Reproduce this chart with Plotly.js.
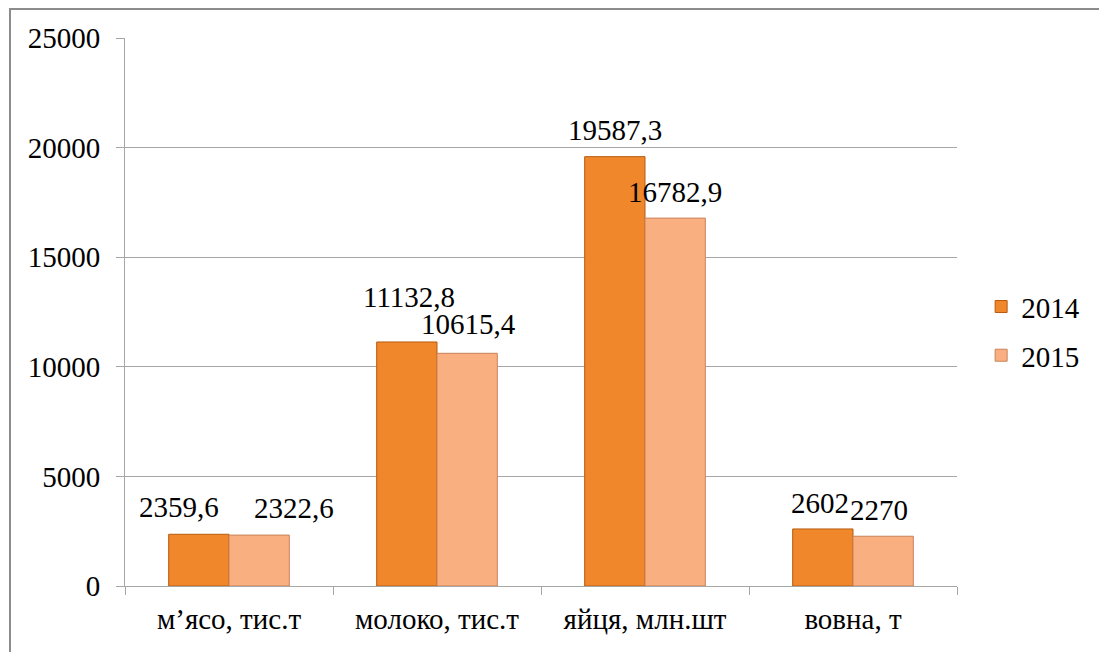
<!DOCTYPE html>
<html>
<head>
<meta charset="utf-8">
<script src="https://cdn.plot.ly/plotly-3.0.1.min.js"></script>
<style>
  html, body { margin: 0; padding: 0; background: #fff; overflow: hidden; }
  #chart { position: absolute; left: 0; top: 0; width: 1099px; height: 652px; }
  #frame { position: absolute; left: 9px; top: 8px; width: 1100px; height: 660px;
           border: 2px solid #8c8c8c; box-sizing: border-box; pointer-events: none; }
</style>
</head>
<body>
<div id="chart"></div>
<div id="frame"></div>
<script>
const categories = ['м’ясо, тис.т', 'молоко, тис.т', 'яйця, млн.шт', 'вовна, т'];
const values2014 = [2359.6, 11132.8, 19587.3, 2602];
const values2015 = [2322.6, 10615.4, 16782.9, 2270];
const labels2014 = ['2359,6', '11132,8', '19587,3', '2602'];
const labels2015 = ['2322,6', '10615,4', '16782,9', '2270'];
const seriesNames = ['2014', '2015'];
const yTicks = [0, 5000, 10000, 15000, 20000, 25000];

// label placement offsets (px) relative to the category centre / bar top
const labelDx2014 = [-50, -28, -30, -33];
const labelDy2014 = [27, 45, 27, 26];
const labelDx2015 = [65, 31, 30, 26];
const labelDy2015 = [27, 29, 26, 26];

const font = "'Liberation Serif', 'Times New Roman', serif";
const fs = 29;

const traces = [
  {
    type: 'bar', name: seriesNames[0], x: categories, y: values2014,
    legendgroup: 'a',
    marker: { color: '#F0872A', line: { color: '#B85A10', width: 1 } },
    hoverinfo: 'none'
  },
  {
    type: 'bar', name: seriesNames[1], x: categories, y: values2015,
    legendgroup: 'b',
    marker: { color: '#F9AF80', line: { color: '#C98158', width: 1 } },
    hoverinfo: 'none'
  }
];

const annotations = [];
categories.forEach((c, i) => {
  annotations.push({
    x: c, y: values2014[i], xref: 'x', yref: 'y', text: labels2014[i],
    showarrow: false, xshift: labelDx2014[i], yshift: labelDy2014[i],
    font: { family: font, size: fs, color: '#000' }
  });
  annotations.push({
    x: c, y: values2015[i], xref: 'x', yref: 'y', text: labels2015[i],
    showarrow: false, xshift: labelDx2015[i], yshift: labelDy2015[i],
    font: { family: font, size: fs, color: '#000' }
  });
});

const layout = {
  width: 1099, height: 652,
  margin: { l: 125, r: 142, t: 38, b: 66 },
  paper_bgcolor: '#fff', plot_bgcolor: '#fff',
  font: { family: font, size: fs, color: '#000' },
  barmode: 'group',
  bargap: 0.42, bargroupgap: 0,
  xaxis: {
    showline: true, linecolor: '#a6a6a6', linewidth: 1,
    ticks: 'outside', tickson: 'boundaries', ticklen: 8, tickcolor: '#a6a6a6',
    ticklabelstandoff: 7,
    tickfont: { family: font, size: fs, color: '#000' },
    showgrid: false, zeroline: false, fixedrange: true
  },
  yaxis: {
    range: [0, 25000], tickvals: yTicks, ticktext: yTicks.map(String),
    showline: true, linecolor: '#a6a6a6', linewidth: 1,
    ticks: 'outside', ticklen: 8, tickcolor: '#a6a6a6',
    ticklabelstandoff: 10,
    showgrid: true, gridcolor: '#a6a6a6', gridwidth: 1,
    zeroline: false,
    tickfont: { family: font, size: fs, color: '#000' },
    fixedrange: true
  },
  legend: {
    x: 1.029, y: 0.465, xanchor: 'left', yanchor: 'middle',
    font: { family: font, size: fs, color: '#000' },
    traceorder: 'grouped', tracegroupgap: 8,
    itemwidth: 30, bgcolor: 'rgba(0,0,0,0)'
  },
  annotations: annotations,
  showlegend: true
};

Plotly.newPlot('chart', traces, layout, { displayModeBar: false, staticPlot: true });
</script>
</body>
</html>
